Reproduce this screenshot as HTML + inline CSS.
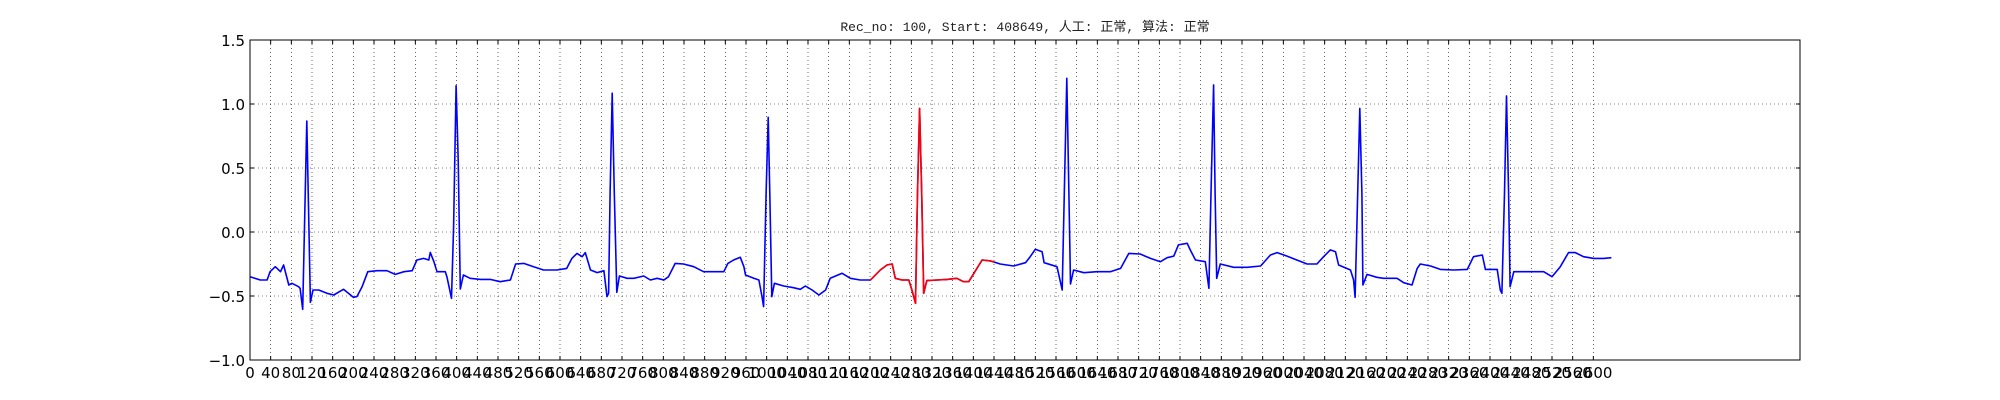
<!DOCTYPE html>
<html><head><meta charset="utf-8">
<style>
html,body{margin:0;padding:0;background:#fff;}
svg{display:block;}
text{font-family:"DejaVu Sans","Liberation Sans",sans-serif;}
</style></head>
<body>
<svg id="chart" width="2000" height="400" xmlns="http://www.w3.org/2000/svg">
<text x="1025" y="31" text-anchor="middle" font-size="13" style="font-family:'Liberation Mono','Noto Sans CJK SC',monospace" fill="#222">Rec_no: 100, Start: 408649, 人工: 正常, 算法: 正常</text>
<g id="grid"></g>
<g id="ticks"></g>
<g id="series"></g>
<rect x="250" y="40" width="1550" height="320" fill="none" stroke="#000" stroke-width="1"/>
</svg>
<script>
const samples = [0,20,33,39,49,59,65,75,81,94,97,102,110,114,117,122,133,149,162,181,200,207,217,228,246,265,281,298,314,323,336,346,349,356,362,378,381,390,394,399,403,407,413,426,446,465,484,504,514,530,549,568,594,613,623,633,643,649,659,672,
685,691,694,697,701,705,710,715,730,743,762,775,788,801,810,823,839,859,878,897,917,925,936,949,956,959,975,985,991,994,999,1003,1006,1010,1015,1033,1052,1065,1075,1088,1101,1114,1123,1146,1162,1181,1201,1220,1233,1243,1249,1262,1275,1281,1288,1292,1296,1300,1304,1310,1330,1349,1368,
1381,1391,1401,1417,1433,1452,1478,1501,1510,1520,1533,1537,1562,1572,1576,1581,1585,1588,1594,1614,1639,1665,1685,1701,1723,1743,1762,1775,1788,1797,1814,1820,1830,1849,1856,1860,1865,1868,1871,1878,1904,1930,1956,1975,1988,2007,2026,2046,2065,
2078,2091,2101,2107,2130,2136,2139,2144,2148,2152,2154,2162,2181,2194,2220,2233,2249,2259,2265,2285,2304,2330,2356,2368,2385,2391,2414,2420,2423,2428,2432,2436,2439,2446,2465,2485,2504,2520,2536,2552,2565,2581,2601,2620,2635];
const values = [-0.349,-0.375,-0.375,-0.310,-0.271,-0.310,-0.258,-0.414,-0.401,-0.427,-0.440,-0.604,0.867,0.042,-0.549,-0.453,-0.453,-0.479,-0.492,-0.448,-0.510,-0.505,-0.427,-0.310,-0.302,-0.302,-0.331,-0.310,-0.302,-0.219,-0.206,-0.219,-0.159,-0.232,-0.310,-0.310,-0.349,-0.518,0.042,1.143,0.563,-0.445,-0.336,-0.362,-0.370,-0.370,-0.388,-0.375,-0.250,-0.245,-0.271,-0.297,-0.297,-0.284,-0.206,-0.167,-0.193,-0.161,-0.297,-0.317,
-0.302,-0.505,-0.479,0.302,1.084,0.302,-0.471,-0.344,-0.362,-0.362,-0.344,-0.375,-0.362,-0.375,-0.349,-0.245,-0.250,-0.271,-0.310,-0.310,-0.310,-0.245,-0.219,-0.198,-0.271,-0.336,-0.362,-0.375,-0.505,-0.583,0.302,0.896,0.302,-0.505,-0.401,-0.422,-0.435,-0.448,-0.422,-0.453,-0.492,-0.453,-0.362,-0.323,-0.362,-0.375,-0.375,-0.297,-0.258,-0.250,-0.362,-0.375,-0.375,-0.453,-0.557,0.302,0.966,0.302,-0.479,-0.380,-0.375,-0.370,-0.362,
-0.388,-0.388,-0.323,-0.219,-0.226,-0.250,-0.266,-0.240,-0.193,-0.135,-0.154,-0.240,-0.271,-0.453,0.302,1.201,0.302,-0.406,-0.297,-0.318,-0.310,-0.310,-0.284,-0.167,-0.172,-0.206,-0.232,-0.201,-0.188,-0.101,-0.088,-0.141,-0.219,-0.232,-0.440,0.302,1.149,0.302,-0.362,-0.250,-0.276,-0.276,-0.266,-0.180,-0.161,-0.188,-0.219,-0.250,-0.250,
-0.193,-0.140,-0.154,-0.258,-0.297,-0.375,-0.510,0.302,0.966,0.302,-0.414,-0.331,-0.354,-0.362,-0.362,-0.396,-0.414,-0.284,-0.250,-0.266,-0.292,-0.297,-0.292,-0.193,-0.180,-0.292,-0.292,-0.453,-0.479,0.302,1.063,0.302,-0.427,-0.310,-0.310,-0.310,-0.310,-0.349,-0.271,-0.161,-0.161,-0.193,-0.206,-0.206,-0.201];
const redRange = [1200, 1440];
const yTicks = [1.5, 1.0, 0.5, 0.0, -0.5, -1.0];
const yTickLabels = ["1.5","1.0","0.5","0.0","\u22120.5","\u22121.0"];
const xTicks = [];
for (let t = 0; t <= 2600; t += 40) xTicks.push(t);

const L=250,R=1800,T=40,B=360, XMAX=3000, YMIN=-1, YMAX=1.5;
const sx = s => L + (s/XMAX)*(R-L);
const sy = v => T + (YMAX-v)/(YMAX-YMIN)*(B-T);
const NS="http://www.w3.org/2000/svg";
const grid=document.getElementById('grid'), ticks=document.getElementById('ticks'), series=document.getElementById('series');
function mk(tag, attrs, parent){const e=document.createElementNS(NS,tag);for(const k in attrs)e.setAttribute(k,attrs[k]);parent.appendChild(e);return e;}

xTicks.forEach(t=>{
  const x=sx(t);
  const g=mk('line',{x1:x,x2:x,y1:T,y2:B,stroke:'#000','stroke-width':0.6,'stroke-dasharray':'1,3'},grid);
  
  
  mk('line',{x1:x,x2:x,y1:B,y2:B-4,stroke:'#000','stroke-width':1},ticks);
  mk('line',{x1:x,x2:x,y1:T,y2:T+4,stroke:'#000','stroke-width':1},ticks);
  const tx=mk('text',{x:x,y:B+18,'text-anchor':'middle','font-size':15,fill:'#000'},ticks);
  tx.textContent=String(t);
  
  
});
yTicks.forEach((v,i)=>{
  const y=sy(v);
  const g=mk('line',{x1:L,x2:R,y1:y,y2:y,stroke:'#000','stroke-width':0.6,'stroke-dasharray':'1,3'},grid);
  
  
  mk('line',{x1:L,x2:L+4,y1:y,y2:y,stroke:'#000','stroke-width':1},ticks);
  mk('line',{x1:R,x2:R-4,y1:y,y2:y,stroke:'#000','stroke-width':1},ticks);
  const tx=mk('text',{x:L-5,y:y+6,'text-anchor':'end','font-size':15,fill:'#000'},ticks);
  tx.textContent=yTickLabels[i];
  
  
});

const pts=samples.map((s,i)=>sx(s).toFixed(1)+','+sy(values[i]).toFixed(1)).join(' ');
const blue=mk('polyline',{points:pts,fill:'none',stroke:'#0000ff','stroke-width':1.6,'stroke-linejoin':'round'},series);


function interp(s){for(let i=1;i<samples.length;i++){if(samples[i]>=s){const a=samples[i-1],b=samples[i];const f=(s-a)/(b-a);return values[i-1]+f*(values[i]-values[i-1]);}}return values[values.length-1];}
const rp=[[redRange[0],interp(redRange[0])]];
samples.forEach((s,i)=>{if(s>redRange[0]&&s<redRange[1])rp.push([s,values[i]]);});
rp.push([redRange[1],interp(redRange[1])]);
const red=mk('polyline',{points:rp.map(p=>sx(p[0]).toFixed(1)+','+sy(p[1]).toFixed(1)).join(' '),fill:'none',stroke:'#ff0000','stroke-width':1.6,'stroke-linejoin':'round'},series);


</script>
</body></html>
